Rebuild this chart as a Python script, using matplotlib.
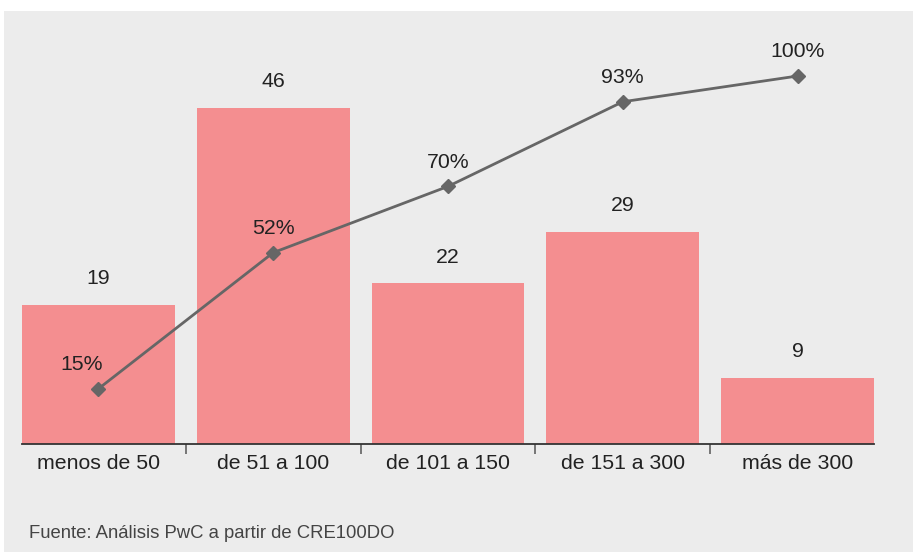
import matplotlib
matplotlib.use("Agg")
import matplotlib.pyplot as plt
from matplotlib.patches import Rectangle

categories = ["menos de 50", "de 51 a 100", "de 101 a 150", "de 151 a 300", "más de 300"]
counts = [19, 46, 22, 29, 9]
cumulative_pct = [15, 52, 70, 93, 100]
source = "Fuente: Análisis PwC a partir de CRE100DO"

plt.rcParams['font.family'] = ['Liberation Sans', 'DejaVu Sans']

W, H = 913, 552
fig = plt.figure(figsize=(W / 100, H / 100), dpi=100)
fig.patch.set_facecolor("white")
fig.patches.append(Rectangle((4 / W, 0), 1 - 4 / W, 1 - 11 / H, transform=fig.transFigure,
                             facecolor="#ececec", edgecolor="none", zorder=-10))

left, right = 22 / W, 874 / W
bottom, top = (H - 444) / H, (H - 30) / H
ax = fig.add_axes([left, bottom, right - left, top - bottom])
ax.patch.set_alpha(0)
x = list(range(len(categories)))
bw = 0.874
ax.bar(x, counts, width=bw, color="#f48e90", zorder=2)
ax.set_xlim(-bw / 2, len(categories) - 1 + bw / 2)
ax.set_ylim(0, 414 / 7.3)
for xi, v in zip(x, counts):
    ax.annotate(str(v), (xi, v), xytext=(0, 19), textcoords="offset points",
                ha="center", va="center", fontsize=15.3, color="#222222")

for s in ["top", "right", "left"]:
    ax.spines[s].set_visible(False)
ax.spines["bottom"].set_color("#333333")
ax.spines["bottom"].set_linewidth(1.3)
ax.set_yticks([])
ax.set_xticks([i + 0.5 for i in x[:-1]])
ax.set_xticklabels([])
ax.tick_params(axis="x", length=7, width=1.1, color="#555555", direction="out")
ax.set_xticks(x, minor=True)
ax.set_xticklabels(categories, minor=True, fontsize=15.3, color="#222222")
ax.tick_params(axis="x", which="minor", length=0, pad=7)

ax2 = ax.twinx()
ax2.set_ylim(0, 414 / 3.68)
ax2.plot(x, cumulative_pct, color="#666666", lw=2, marker="D", markersize=7, zorder=3)
ax2.set_yticks([])
for s in ["top", "right", "left", "bottom"]:
    ax2.spines[s].set_visible(False)
for i, (xi, p) in enumerate(zip(x, cumulative_pct)):
    dx = -12 if i == 0 else 0
    ax2.annotate(f"{p}%", (xi, p), xytext=(dx, 17.3), textcoords="offset points",
                 ha="center", va="center", fontsize=15.3, color="#222222")

fig.text(29 / W, 1 - 533 / H, source, fontsize=13.3, color="#444444", ha="left", va="center")

fig.savefig("out.png", dpi=100)
